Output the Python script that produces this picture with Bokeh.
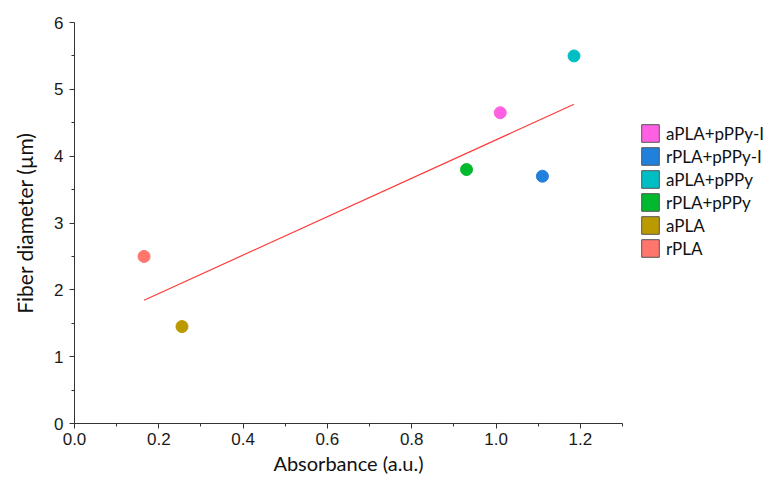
import numpy as np
from bokeh.plotting import figure
from bokeh.layouts import row
from bokeh.models import Range1d, ColumnDataSource, Legend, LegendItem, FixedTicker
from bokeh.embed import file_html
from bokeh.resources import INLINE

samples = ["aPLA+pPPy-I", "rPLA+pPPy-I", "aPLA+pPPy", "rPLA+pPPy", "aPLA", "rPLA"]
absorbance = [1.01, 1.11, 1.185, 0.93, 0.255, 0.165]
diameter = [4.65, 3.70, 5.50, 3.80, 1.45, 2.50]
colors = ["#FF5FE3", "#2180DC", "#00BFC4", "#00B92E", "#BB9A00", "#FF766D"]

x_ticks = [0.0, 0.2, 0.4, 0.6, 0.8, 1.0, 1.2]
x_minor = [0.1, 0.3, 0.5, 0.7, 0.9, 1.1, 1.3]
y_ticks = [0, 1, 2, 3, 4, 5, 6]
y_minor = [0.5, 1.5, 2.5, 3.5, 4.5, 5.5]

slope, intercept = np.polyfit(absorbance, diameter, 1)
fit_x = [min(absorbance), max(absorbance)]
fit_y = [slope * v + intercept for v in fit_x]

p = figure(width=626, height=480, output_backend="svg", toolbar_location=None,
           x_range=Range1d(0, 1.3), y_range=Range1d(0, 6),
           min_border_left=74, min_border_right=4, min_border_top=22, min_border_bottom=57)
p.outline_line_color = None
p.xgrid.visible = False
p.ygrid.visible = False

p.line(fit_x, fit_y, line_color="#FF3B3B", line_width=1.2)

src = ColumnDataSource(dict(x=absorbance, y=diameter, c=colors))
p.scatter("x", "y", source=src, size=12, fill_color="c", line_color="c")

for ax in (p.xaxis, p.yaxis):
    ax.axis_line_color = "#333333"
    ax.major_tick_line_color = "#333333"
    ax.minor_tick_line_color = "#333333"
    ax.major_tick_out = 5
    ax.major_tick_in = 0
    ax.minor_tick_out = 3
    ax.minor_tick_in = 0
    ax.major_label_text_font = "Liberation Sans"
    ax.major_label_text_font_size = "17px"
    ax.major_label_text_color = "#1a1a1a"
    ax.axis_label_text_font = "Lato"
    ax.axis_label_text_font_style = "normal"
    ax.axis_label_text_color = "#111111"

p.xaxis.axis_label_text_font_size = "20px"
p.yaxis.axis_label_text_font_size = "21px"
p.xaxis.ticker = FixedTicker(ticks=x_ticks, minor_ticks=x_minor)
p.yaxis.ticker = FixedTicker(ticks=y_ticks, minor_ticks=y_minor)
p.xaxis.major_label_overrides = {v: f"{v:.1f}" for v in x_ticks}
p.xaxis.axis_label = "Absorbance (a.u.)"
p.yaxis.axis_label = "Fiber diameter (µm)"
p.xaxis.major_label_standoff = 4
p.xaxis.axis_label_standoff = 3
p.yaxis.major_label_standoff = 6
p.yaxis.axis_label_standoff = 14

# legend panel to the right of the plot
lg = figure(width=142, height=480, output_backend="svg", toolbar_location=None,
            x_range=Range1d(0, 1.3), y_range=Range1d(0, 6),
            min_border_left=0, min_border_right=0, min_border_top=0, min_border_bottom=0)
lg.axis.visible = False
lg.xgrid.visible = False
lg.ygrid.visible = False
lg.outline_line_color = None

items = []
for name, col, xv, yv in zip(samples, colors, absorbance, diameter):
    r = lg.quad(left=[xv], right=[xv], top=[yv], bottom=[yv],
                fill_color=col, line_color="#555555", line_width=1)
    r.visible = False
    items.append(LegendItem(label=name, renderers=[r]))

legend = Legend(items=items, location=(13, 164), glyph_width=22, glyph_height=22,
                spacing=1, padding=0, margin=0, label_standoff=5,
                label_text_font="Lato", label_text_font_size="17px", label_text_color="#111111",
                background_fill_alpha=0, border_line_color=None, label_height=22,
                inactive_fill_alpha=0, click_policy="none")
lg.add_layout(legend, "center")

layout = row(p, lg, spacing=0)
open("out.html", "w").write(file_html(layout, INLINE))
